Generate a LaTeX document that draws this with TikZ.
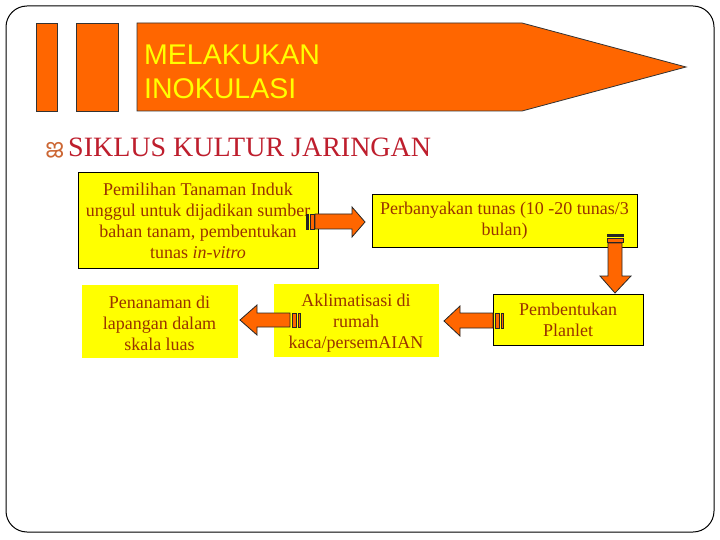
\documentclass[tikz,border=0pt]{standalone}
\usepackage{fontspec}
\setmainfont{Liberation Serif}
\newfontfamily\arialfont{Liberation Sans}
\newfontfamily\malfont[Script=Malayalam]{Hind Kochi}
\definecolor{myorange}{HTML}{FF6600}
\definecolor{myyellow}{HTML}{FFFF00}
\definecolor{boxtext}{HTML}{993300}
\definecolor{titlered}{HTML}{BE1E2D}
\definecolor{bulletcol}{HTML}{CC6633}
\begin{document}
\begin{tikzpicture}[x=1pt,y=-1pt,
  box/.style={fill=myyellow, text=boxtext, align=center, inner sep=0pt,
    font=\fontsize{18}{21}\selectfont},
  boxline/.style={draw=black, line width=1pt},
  blockarr/.style={fill=myorange, draw=black!85, line width=0.8pt, line join=miter},
  hdr/.style={fill=myorange, draw=black!80, line width=0.8pt},
  hdrtxt/.style={anchor=base west, inner sep=0pt, text=myyellow,
    font=\arialfont\fontsize{28.5}{34}\selectfont}]
\useasboundingbox (0,0) rectangle (720,540);
\fill[white] (0,0) rectangle (720,540);
% outer frame
\draw[line width=1pt, rounded corners=21pt] (6,6) rectangle (714,532);
% header
\draw[hdr] (36,23) rectangle (57,111);
\draw[hdr] (76,23) rectangle (118,111);
\draw[hdr] (137,23) -- (522,23) -- (686,67) -- (522,111) -- (137,111) -- cycle;
\node[hdrtxt] (hdr1) at (144,65) {MELAKUKAN};
\node[hdrtxt] (hdr2) at (144,99) {INOKULASI};
% title
\node[text=bulletcol, inner sep=0pt, font=\malfont\fontsize{24}{24}\selectfont] (bul) at (55,150) {ജ};
\node[anchor=base west, inner sep=0pt, text=titlered,
  font=\fontsize{28}{30}\selectfont] (title) at (68,157) {SIKLUS KULTUR JARINGAN};
% boxes
\node[box, boxline, minimum width=240pt, minimum height=95pt] (b1) at (198,220.5)
  {Pemilihan Tanaman Induk\\unggul untuk dijadikan sumber\\bahan tanam, pembentukan\\tunas \textit{in-vitro}};
\node[box, boxline, minimum width=265pt, minimum height=52pt] (b2) at (504.5,221)
  {Perbanyakan tunas (10 -20 tunas/3\\bulan)};
\node[box, boxline, minimum width=150pt, minimum height=51pt] (b3) at (568,319.5)
  {Pembentukan\\Planlet};
\node[box, minimum width=165pt, minimum height=73pt] (b4) at (356,320) {};
\node[box, anchor=center] (b4t) at (356,323.5)
  {Aklimatisasi di\\rumah\\kaca/persem\MakeUppercase{aian}};
\node[box, minimum width=156pt, minimum height=73pt] (b5) at (159.5,321) {};
\node[box, anchor=center] (b5t) at (159.5,323)
  {Penanaman di\\lapangan dalam\\skala luas};
% arrow b1 -> b2
\draw[blockarr, fill=black!85] (306,214) rectangle (308.5,229);
\draw[blockarr] (310,214) rectangle (314,229);
\draw[blockarr] (315,214) -- (352,214) -- (352,207) -- (365,222) -- (352,237) -- (352,229) -- (315,229) -- cycle;
% arrow b2 -> b3
\draw[blockarr, fill=black!85] (607,234) rectangle (623,236.5);
\draw[blockarr] (607,238.5) rectangle (623,242);
\draw[blockarr] (608,243) -- (608,276) -- (600,276) -- (615,293) -- (631,276) -- (622,276) -- (622,243) -- cycle;
% arrow b3 -> b4
\draw[blockarr] (501,313) rectangle (503.5,328);
\draw[blockarr] (495,313) rectangle (499,328);
\draw[blockarr] (493,313) -- (460,313) -- (460,306) -- (444,321) -- (460,336) -- (460,328) -- (493,328) -- cycle;
% arrow b4 -> b5
\draw[blockarr] (298,313) rectangle (300.5,327);
\draw[blockarr] (292,313) rectangle (296,327);
\draw[blockarr] (290,313) -- (257,313) -- (257,305) -- (240,320) -- (257,335) -- (257,327) -- (290,327) -- cycle;
\end{tikzpicture}
\end{document}
